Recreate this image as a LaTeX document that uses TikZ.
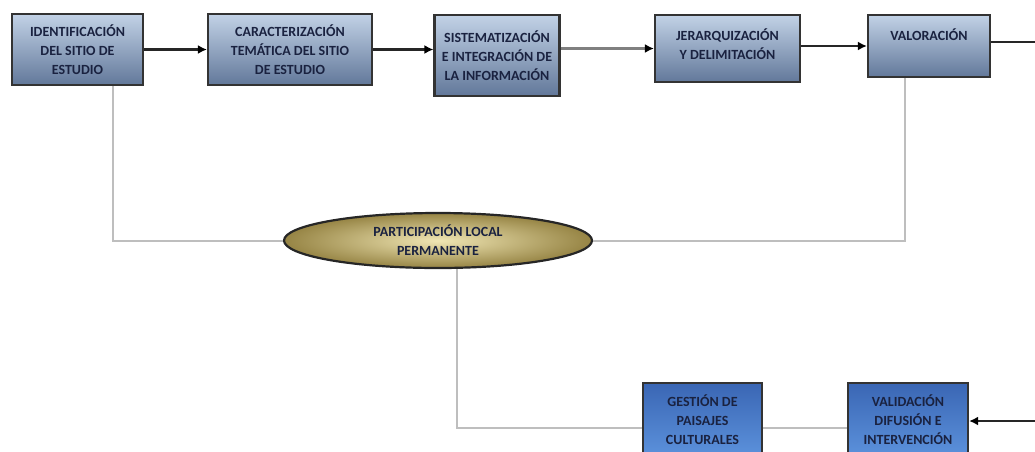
\documentclass[tikz,border=0pt]{standalone}
\usepackage{fontspec}
\setmainfont{Carlito}
\usetikzlibrary{arrows.meta,positioning,shapes.geometric}
\definecolor{boxtop}{HTML}{C2D2E6}
\definecolor{boxbot}{HTML}{62789A}
\definecolor{gestop}{HTML}{3A66B4}
\definecolor{gesbot}{HTML}{5C92DC}
\definecolor{ovalin}{HTML}{F0E6B4}
\definecolor{ovalout}{HTML}{968444}
\definecolor{txtnavy}{HTML}{1A2240}
\definecolor{linkgray}{HTML}{BEBEBE}

\begin{document}
\begin{tikzpicture}[x=1pt,y=-1pt,>={Latex[length=9pt,width=9pt,black]},
    stepbox/.style={draw=black!80,line width=2.2pt,top color=boxtop,bottom color=boxbot,
      text=txtnavy,align=center,inner sep=2pt,
      font=\fontsize{14}{19}\selectfont\bfseries},
    gestbox/.style={stepbox,top color=gestop,bottom color=gesbot},
    oval/.style={ellipse,draw=black!85,line width=2.2pt,inner color=ovalin,outer color=ovalout,
      text=txtnavy,align=center,inner sep=0pt,
      font=\fontsize{14}{19}\selectfont\bfseries},
    flow/.style={->,line width=2.4pt,black!85},
    link/.style={line width=2pt,linkgray}]
  \useasboundingbox (0,0) rectangle (1035,451);

  % Upper chain of stages.
  \node[stepbox,minimum width=131pt,minimum height=71pt] (ident) at (77.5,49.5)
    {IDENTIFICACIÓN\\DEL SITIO DE\\ESTUDIO};
  \node[stepbox,minimum width=164pt,minimum height=71pt] (caract) at (290,49.5)
    {CARACTERIZACIÓN\\TEMÁTICA DEL SITIO\\DE ESTUDIO};
  \node[stepbox,minimum width=125pt,minimum height=81pt] (sistem) at (497,55.5)
    {SISTEMATIZACIÓN\\E INTEGRACIÓN DE\\LA INFORMACIÓN};
  \node[stepbox,minimum width=145pt,minimum height=67pt,text depth=8pt] (jerarq) at (727.5,48.5)
    {JERARQUIZACIÓN\\Y DELIMITACIÓN};
  \node[stepbox,minimum width=122pt,minimum height=62pt,text depth=22pt] (valor) at (929,46)
    {VALORACIÓN};

  % Central participation oval.
  \node[oval,minimum width=308pt,minimum height=55pt] (partic) at (438,240.5)
    {PARTICIPACIÓN LOCAL\\PERMANENTE};

  % Lower stages (cut by the frame).
  \node[gestbox,minimum width=119pt,minimum height=74pt] (gestion) at (702.5,420)
    {GESTIÓN DE\\PAISAJES\\CULTURALES};
  \node[gestbox,minimum width=120pt,minimum height=74pt] (valid) at (908,420)
    {VALIDACIÓN\\DIFUSIÓN E\\INTERVENCIÓN};

  \coordinate (outR) at (1035,42);
  \coordinate (inR) at (1035,421);

  % Flow arrows.
  \draw[flow] (ident.east) -- (ident.east -| caract.west);
  \draw[flow] (caract.east) -- (caract.east -| sistem.west);
  \draw[flow,black!50] (sistem.east |- jerarq.west) -- (jerarq.west);
  \draw[flow] (jerarq.east |- valor.west) -- (valor.west);
  \draw[line width=2.4pt,black!85] (valor.east |- outR) -- (outR);
  \draw[flow] (inR) -- (inR -| valid.east);

  % Participation links.
  \draw[link] ([xshift=35.5pt]ident.south) |- (partic.west);
  \draw[link] ([xshift=-24pt]valor.south) |- (partic.east);
  \draw[link] ([xshift=19pt]partic.south) |- ([yshift=-8pt]gestion.west);
  \draw[link] ([yshift=-8pt]gestion.east) -- ([yshift=-8pt]valid.west);
\end{tikzpicture}
\end{document}
